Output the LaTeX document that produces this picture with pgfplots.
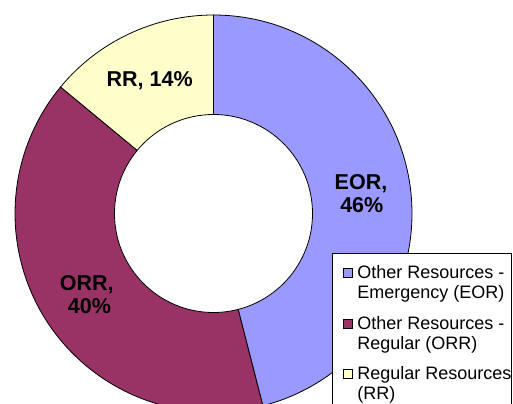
\documentclass[border=0pt]{standalone}
\usepackage{pgfplots}
\pgfplotsset{compat=1.18}
\usepackage{pgfplotstable}
\usepackage{fontspec}
\setmainfont{Liberation Sans}
\definecolor{eor}{HTML}{9999FF}
\definecolor{orr}{HTML}{993366}
\definecolor{rr}{HTML}{FFFFCC}
\pgfplotstableread{
name value
EOR 46
ORR 40
RR 14
}\shares
\newcommand{\sq}[1]{{\setlength\fboxsep{0pt}\setlength\fboxrule{0.8bp}\raisebox{1bp}{\fcolorbox{black}{#1}{\rule{0pt}{8.4bp}\rule{8.4bp}{0pt}}}}}
\begin{document}
\begin{tikzpicture}
\pgfplotstablegetelem{0}{value}\of\shares \let\va\pgfplotsretval
\pgfplotstablegetelem{1}{value}\of\shares \let\vb\pgfplotsretval
\pgfplotstablegetelem{2}{value}\of\shares \let\vc\pgfplotsretval
\pgfmathsetmacro{\aA}{90}
\pgfmathsetmacro{\aB}{90-3.6*\va}
\pgfmathsetmacro{\aC}{\aB-3.6*\vb}
\pgfmathsetmacro{\aD}{\aC-3.6*\vc}
\begin{axis}[x=1bp,y=1bp,xmin=0,xmax=513,ymin=0,ymax=403,hide axis,clip=true]
\fill[eor,draw=black,line width=0.8bp] (axis cs:213.5,189.5) -- ++(\aA:198.5bp) arc[start angle=\aA,end angle=\aB,radius=198.5bp] -- cycle;
\fill[orr,draw=black,line width=0.8bp] (axis cs:213.5,189.5) -- ++(\aB:198.5bp) arc[start angle=\aB,end angle=\aC,radius=198.5bp] -- cycle;
\fill[rr,draw=black,line width=0.8bp] (axis cs:213.5,189.5) -- ++(\aC:198.5bp) arc[start angle=\aC,end angle=\aD,radius=198.5bp] -- cycle;
\fill[white,draw=black,line width=0.8bp] (axis cs:213.5,189.5) circle[radius=99];
\begin{scope}[font=\fontsize{21.5bp}{24bp}\bfseries\selectfont, inner sep=0pt]
\node[anchor=base] at (axis cs:149.7,316.3) {RR, 14\%};
\node[anchor=base] at (axis cs:361,213.7) {EOR,};
\node[anchor=base] at (axis cs:361.8,190.3) {46\%};
\node[anchor=base] at (axis cs:86.8,113) {ORR,};
\node[anchor=base] at (axis cs:89.5,89.7) {40\%};
\end{scope}
\node[anchor=north west, draw=black, fill=white, line width=0.8bp, inner sep=0pt, font=\fontsize{18bp}{20bp}\selectfont] at (axis cs:331.5,149.7) {%
\begin{tabular}{@{\hspace{11bp}}l@{\hspace{4.5bp}}l@{}}
\rule{0pt}{24.4bp}\sq{eor} & Other Resources -\\
 & Emergency (EOR)\\[11bp]
\sq{orr} & Other Resources -\\
 & Regular (ORR)\\[10bp]
\sq{rr} & Regular Resources\\
 & (RR)\\
\end{tabular}};
\end{axis}
\pgfresetboundingbox
\useasboundingbox (current axis.south west) rectangle (current axis.north east);
\end{tikzpicture}
\end{document}
